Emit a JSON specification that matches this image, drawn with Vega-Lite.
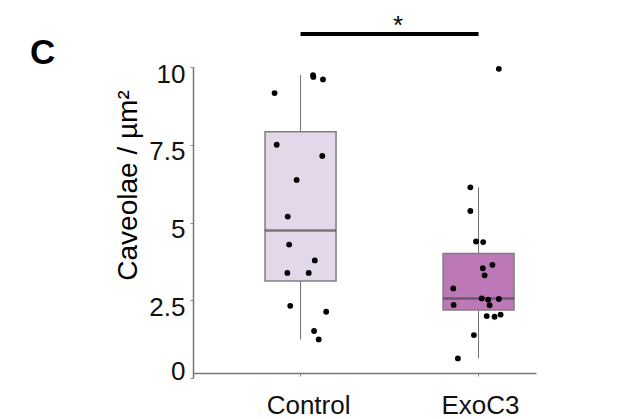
{
  "$schema": "https://vega.github.io/schema/vega-lite/v6.json",
  "width": 343,
  "height": 311,
  "autosize": "none",
  "padding": {"left": 193, "top": 67, "right": 97, "bottom": 41},
  "background": "white",
  "config": {"view": {"stroke": null}, "font": "Liberation Sans"},
  "title": {"text": "C", "anchor": "start", "frame": "group", "fontSize": 35, "fontWeight": "bold", "font": "Liberation Sans", "color": "black", "dx": -163, "dy": 88, "baseline": "alphabetic", "offset": 2},
  "datasets": {
    "points": [
      {"group": "Control", "value": 9.74, "jitter": 0.35},
      {"group": "Control", "value": 9.68, "jitter": 0.36},
      {"group": "Control", "value": 9.60, "jitter": 0.63},
      {"group": "Control", "value": 9.16, "jitter": -0.73},
      {"group": "Control", "value": 7.50, "jitter": -0.67},
      {"group": "Control", "value": 7.14, "jitter": 0.61},
      {"group": "Control", "value": 6.37, "jitter": -0.11},
      {"group": "Control", "value": 5.19, "jitter": -0.36},
      {"group": "Control", "value": 4.29, "jitter": -0.32},
      {"group": "Control", "value": 3.78, "jitter": 0.40},
      {"group": "Control", "value": 3.38, "jitter": -0.37},
      {"group": "Control", "value": 3.38, "jitter": 0.23},
      {"group": "Control", "value": 2.32, "jitter": -0.29},
      {"group": "Control", "value": 2.13, "jitter": 0.72},
      {"group": "Control", "value": 1.51, "jitter": 0.38},
      {"group": "Control", "value": 1.24, "jitter": 0.51},
      {"group": "ExoC3", "value": 9.94, "jitter": 0.57},
      {"group": "ExoC3", "value": 6.13, "jitter": -0.23},
      {"group": "ExoC3", "value": 5.37, "jitter": -0.23},
      {"group": "ExoC3", "value": 4.39, "jitter": -0.07},
      {"group": "ExoC3", "value": 4.37, "jitter": 0.13},
      {"group": "ExoC3", "value": 3.64, "jitter": 0.39},
      {"group": "ExoC3", "value": 3.53, "jitter": 0.12},
      {"group": "ExoC3", "value": 3.30, "jitter": 0.17},
      {"group": "ExoC3", "value": 2.88, "jitter": -0.71},
      {"group": "ExoC3", "value": 2.35, "jitter": -0.70},
      {"group": "ExoC3", "value": 2.56, "jitter": 0.09},
      {"group": "ExoC3", "value": 2.52, "jitter": 0.27},
      {"group": "ExoC3", "value": 2.54, "jitter": 0.57},
      {"group": "ExoC3", "value": 2.34, "jitter": 0.31},
      {"group": "ExoC3", "value": 1.99, "jitter": 0.23},
      {"group": "ExoC3", "value": 1.97, "jitter": 0.45},
      {"group": "ExoC3", "value": 2.04, "jitter": 0.62},
      {"group": "ExoC3", "value": 1.38, "jitter": -0.13},
      {"group": "ExoC3", "value": 0.63, "jitter": -0.58}
    ],
    "sig": [
      {"group": "Control", "group2": "ExoC3", "value": 11.06, "label": "*", "pos": 2.74}
    ]
  },
  "encoding": {
    "x": {
      "field": "group",
      "type": "nominal",
      "scale": {"domain": ["Control", "ExoC3"], "paddingInner": 0.6, "paddingOuter": 0.2635, "align": 0.767},
      "axis": {
        "title": null,
        "offset": -5,
        "labelFontSize": 26,
        "labelFont": "Liberation Sans",
        "labelAngle": 0,
        "labelPadding": 16,
        "labelColor": "#111111",
        "tickSize": 3,
        "tickColor": "#888888",
        "domainColor": "#777777",
        "domainWidth": 1.5,
        "labelOffset": {"expr": "datum.value === 'Control' ? 8 : 2"}
      }
    },
    "y": {
      "field": "value",
      "type": "quantitative",
      "scale": {"domain": [0, 10], "nice": false, "zero": false},
      "axis": {
        "values": [0, 2.5, 5, 7.5, 10],
        "format": ".1~f",
        "grid": false,
        "title": "Caveolae / µm²",
        "titleFont": "Liberation Sans",
        "titleFontSize": 28,
        "titleFontWeight": "normal",
        "titleColor": "black",
        "titleAngle": -90,
        "titleX": -57,
        "titleY": 118,
        "titleAlign": "center",
        "titleBaseline": "alphabetic",
        "labelFont": "Liberation Sans",
        "labelFontSize": 26,
        "labelColor": "#111111",
        "labelPadding": 5,
        "labelFlush": false,
        "labelOverlap": false,
        "labelOffset": {"expr": "datum.value === 0 ? -7 : 7"},
        "tickSize": 3,
        "tickColor": "#888888",
        "domainColor": "#777777",
        "domainWidth": 1.5
      }
    }
  },
  "layer": [
    {
      "data": {"name": "points"},
      "mark": {
        "type": "boxplot",
        "extent": 1.5,
        "size": 71,
        "outliers": false,
        "box": {"stroke": "#7f7f7f", "strokeWidth": 1.5},
        "median": {"color": "#4a4a4a", "thickness": 2.5},
        "rule": {"color": "#707070", "strokeWidth": 1}
      },
      "encoding": {
        "color": {"field": "group", "type": "nominal", "scale": {"domain": ["Control", "ExoC3"], "range": ["#e2d8ea", "#bd79b7"]}, "legend": null}
      }
    },
    {
      "data": {"name": "points"},
      "mark": {"type": "circle", "size": 34, "color": "black", "opacity": 1},
      "encoding": {
        "xOffset": {"field": "jitter", "type": "quantitative", "scale": {"domain": [-1, 1]}}
      }
    },
    {
      "data": {"name": "sig"},
      "mark": {"type": "rule", "strokeWidth": 4, "color": "black"},
      "encoding": {
        "x2": {"field": "group2"}
      }
    },
    {
      "data": {"name": "sig"},
      "mark": {"type": "text", "fontSize": 26, "baseline": "alphabetic", "align": "center", "color": "black", "font": "Liberation Sans"},
      "encoding": {
        "xOffset": {"field": "pos", "type": "quantitative", "scale": {"domain": [-1, 1]}},
        "text": {"field": "label"}
      }
    }
  ]
}
